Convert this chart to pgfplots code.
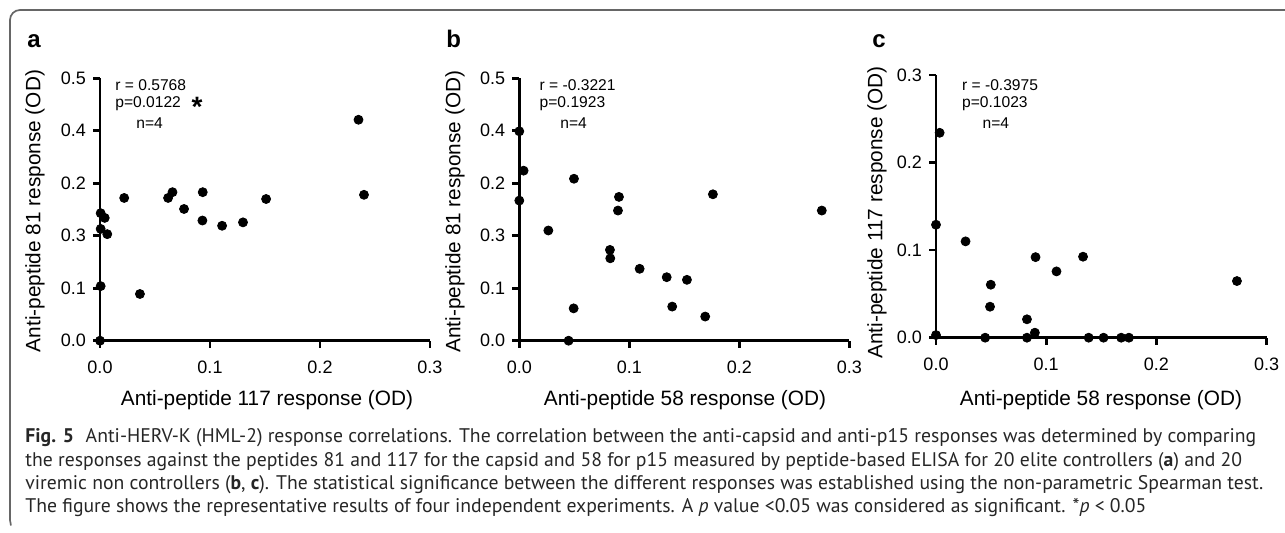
\documentclass[border=0pt]{standalone}
\usepackage{fontspec}
\setmainfont{Liberation Sans}
\newfontfamily\capfont{PT Sans}
\usepackage{pgfplots}
\usepackage{pgfplotstable}
\pgfplotsset{compat=1.18}

\pgfplotstableread{
x y
0.0000 0.000
0.0006 0.104
0.0006 0.243
0.0043 0.234
0.0006 0.213
0.0066 0.203
0.0220 0.272
0.0363 0.089
0.0619 0.272
0.0659 0.283
0.0764 0.251
0.0934 0.283
0.0931 0.229
0.1110 0.219
0.1300 0.2255
0.1510 0.270
0.2350 0.421
0.2400 0.278
}\dataA

\pgfplotstableread{
x y
0.0000 0.399
0.0039 0.324
0.0000 0.267
0.0264 0.210
0.0497 0.3086
0.0494 0.0616
0.0448 0.000
0.0824 0.173
0.0827 0.157
0.0906 0.274
0.0897 0.248
0.1094 0.137
0.1340 0.121
0.1524 0.116
0.1390 0.065
0.1690 0.046
0.1760 0.279
0.2750 0.248
}\dataB

\pgfplotstableread{
x y
0.0033 0.234
0.0000 0.129
0.0000 0.003
0.0268 0.110
0.0497 0.0605
0.0490 0.0354
0.0446 0.000
0.0825 0.021
0.0825 0.000
0.0897 0.0057
0.0903 0.092
0.1093 0.0757
0.1334 0.0925
0.1385 0.000
0.1520 0.000
0.1680 0.000
0.1750 0.000
0.2730 0.0647
}\dataC

\pgfplotsset{
  panel/.style={
    scale only axis,
    axis lines=left,
    axis line style={-, line width=1.35pt},
    enlargelimits=false,
    xmin=0, xmax=0.3, ymin=0,
    xtick={0,0.1,0.2,0.3}, xticklabels={0.0,0.1,0.2,0.3},
    tick align=outside,
    major tick length=3.5pt,
    every tick/.style={black, line width=1.35pt},
    tick label style={font=\fontsize{9}{10}\selectfont},
    xticklabel style={yshift=-3pt},
    clip=false,
    anchor=south west,
  },
  pts/.style={only marks, mark=*, mark size=2.25pt, black},
}

\newcommand{\pp}[2]{({#1*0.5pt},{-#2*0.5pt})}
\newcommand{\lab}{\fontsize{10.4}{12}\selectfont}
\newcommand{\ann}{\fontsize{7.8}{9}\selectfont}

\begin{document}
\begin{tikzpicture}
\path[use as bounding box] (0,0) rectangle (642.5pt,-266.5pt);

% frame
\draw[black!60, line width=0.85pt] (642.5pt,-5pt) -- (10pt,-5pt)
  arc[start angle=90, end angle=180, radius=5pt] -- (5pt,-260pt)
  arc[start angle=180, end angle=200, radius=8pt];

% panel a
\begin{axis}[panel, at={(50pt,-170.35pt)}, width=165pt, height=131.2pt,
  ymax=0.5, ytick={0,0.1,0.2,0.3,0.4,0.5},
  yticklabels={0.0,0.1,0.3,0.2,0.4,0.5}]
\addplot[pts] table {\dataA};
\end{axis}

% panel b
\begin{axis}[panel, at={(259.65pt,-170.35pt)}, width=165pt, height=131.2pt,
  ymax=0.5, ytick={0,0.1,0.2,0.3,0.4,0.5},
  yticklabels={0.0,0.1,0.3,0.2,0.4,0.5}]
\addplot[pts] table {\dataB};
\end{axis}

% panel c
\begin{axis}[panel, at={(468pt,-168.85pt)}, width=165.35pt, height=131.35pt,
  ymax=0.3, ytick={0,0.1,0.2,0.3},
  yticklabels={0.0,0.1,0.2,0.3}]
\addplot[pts] table {\dataC};
\end{axis}

% panel letters
\node[anchor=base west, inner sep=0pt, font=\fontsize{12}{14}\selectfont\bfseries] at \pp{27}{48} {a};
\node[anchor=base west, inner sep=0pt, font=\fontsize{12}{14}\selectfont\bfseries] at \pp{446}{48} {b};
\node[anchor=base west, inner sep=0pt, font=\fontsize{12}{14}\selectfont\bfseries] at \pp{872}{48} {c};

% axis labels
\node[rotate=90, inner sep=0pt, font=\lab] at \pp{35}{211} {Anti-peptide 81 response (OD)};
\node[inner sep=0pt, font=\lab] at \pp{267}{400} {Anti-peptide 117 response (OD)};
\node[rotate=90, inner sep=0pt, font=\lab] at \pp{455}{211.7} {Anti-peptide 81 response (OD)};
\node[inner sep=0pt, font=\lab] at \pp{685}{400} {Anti-peptide 58 response (OD)};
\node[rotate=90, inner sep=0pt, font=\lab] at \pp{877}{212.5} {Anti-peptide 117 response (OD)};
\node[inner sep=0pt, font=\lab] at \pp{1101}{400} {Anti-peptide 58 response (OD)};

% annotations
\node[anchor=west, inner sep=0pt, font=\ann] at \pp{115}{85} {r = 0.5768};
\node[anchor=west, inner sep=0pt, font=\ann] at \pp{115}{104} {p=0.0122};
\node[anchor=west, inner sep=0pt, font=\ann] at \pp{136}{123} {n=4};
\node[inner sep=0pt, font=\fontsize{14}{14}\selectfont\bfseries] at \pp{197}{107} {*};

\node[anchor=west, inner sep=0pt, font=\ann] at \pp{539.3}{85} {r = -0.3221};
\node[anchor=west, inner sep=0pt, font=\ann] at \pp{539.3}{104} {p=0.1923};
\node[anchor=west, inner sep=0pt, font=\ann] at \pp{560}{123} {n=4};

\node[anchor=west, inner sep=0pt, font=\ann] at \pp{961.7}{85} {r = -0.3975};
\node[anchor=west, inner sep=0pt, font=\ann] at \pp{961.7}{104} {p=0.1023};
\node[anchor=west, inner sep=0pt, font=\ann] at \pp{982.3}{123} {n=4};

% caption
\begin{scope}[every node/.style={anchor=base west, inner sep=0pt, text=black!85, font=\capfont\fontsize{9.85}{11}\selectfont}]
\node at \pp{25}{443} {\textbf{Fig. 5}\hspace{0.6em}Anti-HERV-K (HML-2) response correlations. The correlation between the anti-capsid and anti-p15 responses was determined by comparing};
\node at \pp{25}{466.5} {the responses against the peptides 81 and 117 for the capsid and 58 for p15 measured by peptide-based ELISA for 20 elite controllers (\textbf{a}) and 20};
\node at \pp{25}{490} {viremic non controllers (\textbf{b}, \textbf{c}). The statistical significance between the different responses was established using the non-parametric Spearman test.};
\node at \pp{25}{513} {The figure shows the representative results of four independent experiments. A \textit{p} value <0.05 was considered as significant. *\textit{p} < 0.05};
\end{scope}
\end{tikzpicture}
\end{document}
